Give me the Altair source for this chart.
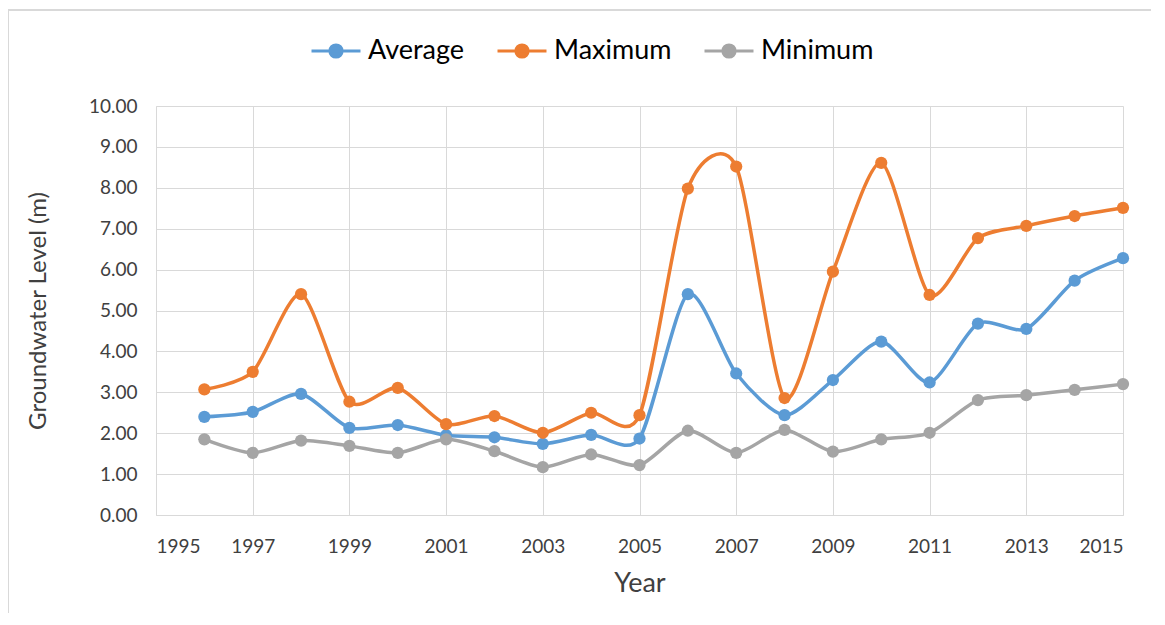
import altair as alt
import pandas as pd

years = list(range(1996, 2016))
average = [2.40, 2.52, 2.96, 2.13, 2.20, 1.95, 1.90, 1.74, 1.96, 1.87,
           5.40, 3.46, 2.44, 3.30, 4.24, 3.24, 4.68, 4.55, 5.73, 6.28]
maximum = [3.07, 3.50, 5.40, 2.77, 3.11, 2.22, 2.42, 2.01, 2.50, 2.44,
           7.98, 8.52, 2.86, 5.95, 8.61, 5.38, 6.77, 7.07, 7.31, 7.51]
minimum = [1.85, 1.52, 1.82, 1.69, 1.52, 1.85, 1.56, 1.17, 1.48, 1.22,
           2.06, 1.52, 2.08, 1.55, 1.85, 2.01, 2.81, 2.93, 3.06, 3.20]
series_names = ["Average", "Maximum", "Minimum"]
series_colors = ["#5B9BD5", "#ED7D31", "#A5A5A5"]
x_ticks = list(range(1995, 2016, 2))
y_ticks = list(range(0, 11))

rows = []
for name, vals in zip(series_names, [average, maximum, minimum]):
    for yr, v in zip(years, vals):
        rows.append({"Year": yr, "Level": v, "Series": name})
df = pd.DataFrame(rows)

FONT = "Lato"
TEXT = "#404040"

x_enc = alt.X("Year:Q",
              scale=alt.Scale(domain=[1995, 2015], nice=False, zero=False),
              axis=alt.Axis(values=x_ticks, format="d", title="Year",
                            labelFontSize=19, titleFontSize=27, titleFontWeight="normal",
                            labelPadding=22, titlePadding=14, ticks=False,
                            grid=True))
y_enc = alt.Y("Level:Q",
              scale=alt.Scale(domain=[0, 10], nice=False),
              axis=alt.Axis(values=y_ticks, format=".2f", title="Groundwater Level (m)",
                            labelFontSize=19, titleFontSize=24, titleFontWeight="normal",
                            labelPadding=19, titlePadding=38, ticks=False,
                            grid=True))
color_enc = alt.Color("Series:N",
                      scale=alt.Scale(domain=series_names, range=series_colors),
                      legend=alt.Legend(
                          title=None, orient="none", direction="horizontal",
                          legendX=154, legendY=-81,
                          symbolType="M -1 0 L 1 0 M -0.25 0 A 0.25 0.25 0 1 1 0.25 0 A 0.25 0.25 0 1 1 -0.25 0 Z",
                          symbolSize=2400, symbolStrokeWidth=3,
                          labelFontSize=27, labelOffset=6, columnPadding=26,
                          labelColor="#000000"))

base = alt.Chart(df)
lines = base.mark_line(interpolate="cardinal", tension=0.25, strokeWidth=3.5).encode(
    x=x_enc, y=y_enc, color=color_enc)
points = base.mark_point(filled=True, size=150, opacity=1).encode(
    x=x_enc, y=y_enc, color=alt.Color("Series:N",
                                      scale=alt.Scale(domain=series_names, range=series_colors),
                                      legend=None))
frame = alt.Chart(alt.Data(values=[{}])).mark_rect(
    fill=None, stroke="#D9D9D9", strokeWidth=2, clip=False).encode(
    x=alt.value(-148), x2=alt.value(1300), y=alt.value(-96), y2=alt.value(800))

chart = alt.layer(frame, lines, points).properties(
    width=967, height=409,
    autosize=alt.AutoSizeParams(type="none"),
    padding={"left": 148, "top": 98, "right": 28, "bottom": 98},
).configure(font=FONT).configure_axis(
    gridColor="#D9D9D9", domainColor="#D9D9D9", labelColor=TEXT,
    titleColor=TEXT, domainWidth=1, gridWidth=1,
).configure_view(stroke=None)

chart.save("out.html", embed_options={"renderer": "svg", "actions": False})
